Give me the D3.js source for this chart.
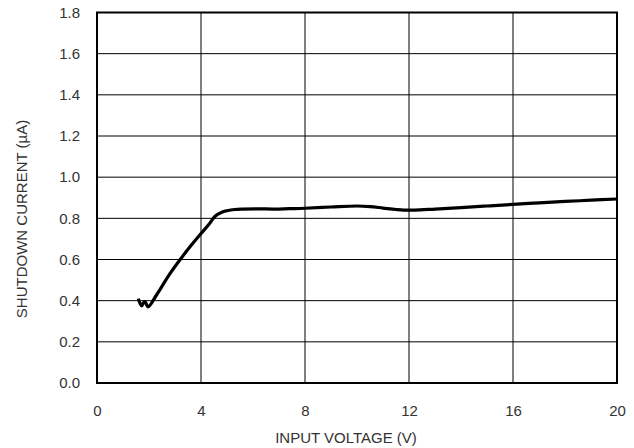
<!DOCTYPE html>
<html><head><meta charset="utf-8">
<script src="https://cdn.jsdelivr.net/npm/d3@7"></script>
<style>body{margin:0;background:#fff}svg{display:block}text{font-family:"Liberation Sans",Arial,sans-serif;fill:#333}</style>
</head><body>
<script>
const voltage = [1.59,1.66,1.72,1.79,1.85,1.91,1.97,2.3,2.8,3.2,3.6,3.96,4.3,4.54,4.8,5.0,5.3,5.6,6.2,6.8,7.4,8.0,9.0,10.0,10.5,11.0,11.5,11.8,12.2,13,14,15,16,17,18,19,20];
const current = [0.41,0.385,0.375,0.39,0.395,0.38,0.37,0.43,0.53,0.60,0.665,0.72,0.77,0.81,0.83,0.837,0.843,0.845,0.846,0.845,0.847,0.849,0.855,0.86,0.857,0.85,0.843,0.84,0.84,0.845,0.852,0.86,0.868,0.875,0.882,0.888,0.894];
const xTicks = [0,4,8,12,16,20];
const yTicks = [0,0.2,0.4,0.6,0.8,1.0,1.2,1.4,1.6,1.8];

const W=634,H=448;
const svg=d3.select("body").append("svg").attr("width",W).attr("height",H);
const x=d3.scaleLinear().domain([0,20]).range([97,617]);
const y=d3.scaleLinear().domain([0,1.8]).range([383,12.5]);

const g=svg.append("g");
g.selectAll(".hg").data(yTicks.slice(1,-1)).enter().append("line")
 .attr("x1",x(0)).attr("x2",x(20)).attr("y1",d=>y(d)).attr("y2",d=>y(d))
 .attr("stroke","#000").attr("stroke-width",1);
g.selectAll(".vg").data(xTicks.slice(1,-1)).enter().append("line")
 .attr("y1",y(0)).attr("y2",y(1.8)).attr("x1",d=>x(d)).attr("x2",d=>x(d))
 .attr("stroke","#000").attr("stroke-width",1);
g.append("rect").attr("x",x(0)).attr("y",y(1.8)).attr("width",x(20)-x(0)).attr("height",y(0)-y(1.8))
 .attr("fill","none").attr("stroke","#000").attr("stroke-width",2);

const xa=svg.append("g").attr("transform",`translate(0,${y(0)})`)
 .call(d3.axisBottom(x).tickValues(xTicks).tickSize(0).tickPadding(22).tickFormat(d3.format("d")));
const ya=svg.append("g").attr("transform",`translate(${x(0)},0)`)
 .call(d3.axisLeft(y).tickValues(yTicks).tickSize(0).tickPadding(17).tickFormat(d3.format(".1f")));
[xa,ya].forEach(a=>{a.select(".domain").remove();a.selectAll("text").style("font-size","15px").style("font-family","'Liberation Sans',Arial,sans-serif").attr("fill","#333");});

svg.append("path").datum(voltage.map((v,i)=>[v,current[i]]))
 .attr("d",d3.line().x(d=>x(d[0])).y(d=>y(d[1])).curve(d3.curveCatmullRom))
 .attr("fill","none").attr("stroke","#000").attr("stroke-width",3.2).attr("stroke-linejoin","round");

svg.append("text").attr("x",346).attr("y",443).attr("text-anchor","middle").style("font-size","15px").text("INPUT VOLTAGE (V)");
svg.append("text").attr("transform","translate(27,219) rotate(-90)").attr("text-anchor","middle").style("font-size","15px").text("SHUTDOWN CURRENT (µA)");
</script>
</body></html>
